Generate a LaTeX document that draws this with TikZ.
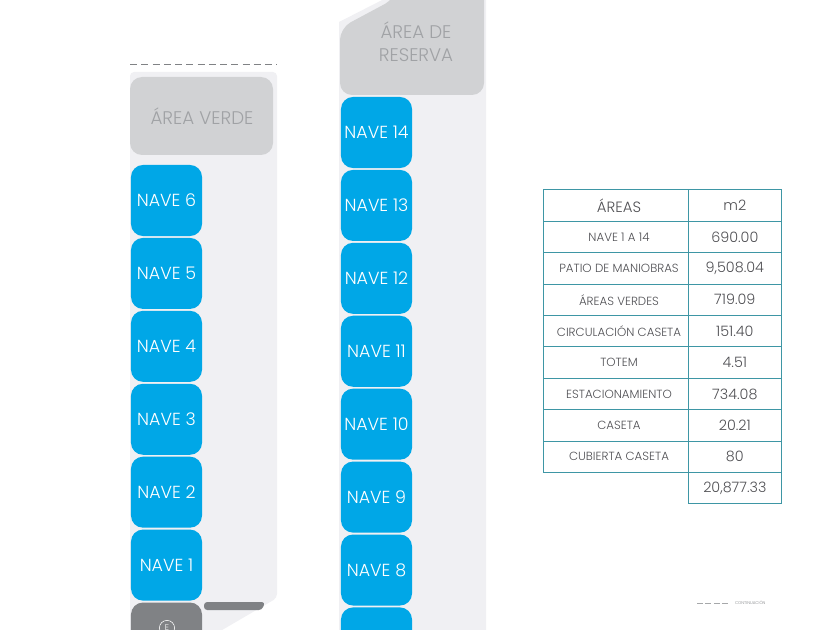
\documentclass[tikz,border=0pt]{standalone}
\usepackage{fontspec}
\usepackage{xcolor}
\usetikzlibrary{positioning}
\setmainfont{Poppins}[UprightFont=* Light]
\definecolor{navblue}{RGB}{0,167,231}
\definecolor{panelgray}{RGB}{240,240,243}
\definecolor{areagray}{RGB}{209,210,212}
\definecolor{areatext}{RGB}{160,162,165}
\definecolor{darkgray}{RGB}{128,130,133}
\definecolor{tableteal}{RGB}{62,150,165}
\definecolor{celltext}{RGB}{80,80,84}

\begin{document}
\begin{tikzpicture}[
    x=0.025cm, y=-0.025cm,
    node distance=0.0475cm,
    nave/.style={rectangle, fill=navblue, text=white, rounded corners=0.3cm, minimum width=1.775cm, minimum height=1.775cm, inner sep=0pt, outer sep=0pt, font=\fontsize{12.4}{14}\selectfont},
    areatag/.style={text=areatext, align=center, inner sep=0pt, font=\fontsize{13}{16.4}\selectfont},
    namecell/.style={rectangle, draw=tableteal, line width=0.7pt, text=celltext, minimum width=3.6cm, minimum height=0.785cm, inner sep=0pt, outer sep=0pt, font=\fontsize{8.4}{9}\selectfont, execute at begin node={\hspace*{0.15cm}}},
    valcell/.style={rectangle, draw=tableteal, line width=0.7pt, text=celltext, minimum width=2.34cm, minimum height=0.785cm, inner sep=0pt, outer sep=0pt, font=\fontsize{10.2}{11}\selectfont}
]
\useasboundingbox (0,0) rectangle (840,630);
\clip (0,0) rectangle (840,630);

% Panels behind the columns
\fill[panelgray, rounded corners=0.1cm] (130,72) -- (277,72) -- (277,598) -- (205,640) -- (130,640) -- cycle;
\fill[panelgray] (339,22) -- (390,-4) -- (486,-4) -- (486,640) -- (339,640) -- cycle;

% Dashed limit
\coordinate (limitw) at (130,64);
\coordinate (limite) at (277,64);
\draw[darkgray, dashed, line width=0.7pt, dash pattern=on 5pt off 3pt] (limitw) -- (limite);

% Gray areas
\fill[areagray, rounded corners=0.3cm] (130,77) rectangle (273,155);
\node[areatag] (verde) at (202,116.5) {ÁREA VERDE};
\fill[areagray, rounded corners=0.3cm] (340,28) -- (396,-2) -- (396,-30) -- (484,-30) -- (484,95) -- (340,95) -- cycle;
\node[areatag] (reserva) at (416,41.5) {ÁREA DE\\RESERVA};

% Column 1
\node[nave] (n6) at (166.5,200.5) {NAVE 6};
\node[nave, below=of n6] (n5) {NAVE 5};
\node[nave, below=of n5] (n4) {NAVE 4};
\node[nave, below=of n4] (n3) {NAVE 3};
\node[nave, below=of n3] (n2) {NAVE 2};
\node[nave, below=of n2] (n1) {NAVE 1};
\node[nave, below=of n1, fill=darkgray] (caseta) {};
\node[draw=white, text=white, circle, line width=0.4pt, minimum size=0.38cm, inner sep=0pt, font=\fontsize{6}{7}\selectfont] (totem) at (167,628) {E};
\fill[darkgray, rounded corners=0.08cm] (204,602) -- (265,602) -- (262,610) -- (204,610) -- cycle;

% Column 2
\node[nave] (n14) at (376.5,132.5) {NAVE 14};
\node[nave, below=of n14] (n13) {NAVE 13};
\node[nave, below=of n13] (n12) {NAVE 12};
\node[nave, below=of n12] (n11) {NAVE 11};
\node[nave, below=of n11] (n10) {NAVE 10};
\node[nave, below=of n10] (n9) {NAVE 9};
\node[nave, below=of n9] (n8) {NAVE 8};
\node[nave, below=of n8] (n7) {};

% Table
\node[namecell, font=\fontsize{10.6}{12}\selectfont] (t1) at (616,205.5) {ÁREAS};
\node[namecell, below=0pt of t1] (t2) {NAVE 1 A 14};
\node[namecell, below=0pt of t2] (t3) {PATIO DE MANIOBRAS};
\node[namecell, below=0pt of t3] (t4) {ÁREAS VERDES};
\node[namecell, below=0pt of t4] (t5) {CIRCULACIÓN CASETA};
\node[namecell, below=0pt of t5] (t6) {TOTEM};
\node[namecell, below=0pt of t6] (t7) {ESTACIONAMIENTO};
\node[namecell, below=0pt of t7] (t8) {CASETA};
\node[namecell, below=0pt of t8] (t9) {CUBIERTA CASETA};

\node[valcell, right=0pt of t1] (v1) {m2};
\node[valcell, right=0pt of t2] (v2) {690.00};
\node[valcell, right=0pt of t3] (v3) {9,508.04};
\node[valcell, right=0pt of t4] (v4) {719.09};
\node[valcell, right=0pt of t5] (v5) {151.40};
\node[valcell, right=0pt of t6] (v6) {4.51};
\node[valcell, right=0pt of t7] (v7) {734.08};
\node[valcell, right=0pt of t8] (v8) {20.21};
\node[valcell, right=0pt of t9] (v9) {80};
\node[valcell, below=0pt of v9] (v10) {20,877.33};
\draw[tableteal, line width=1.2pt] (v10.north west) -- (v10.north east);

% Legend
\coordinate (legw) at (697,603);
\coordinate (lege) at (730,603);
\draw[darkgray!70, dashed, line width=0.4pt, dash pattern=on 4pt off 2pt] (legw) -- (lege);
\node[right=0.12cm of lege, inner sep=0pt, text=darkgray, font=\fontsize{2.9}{3}\selectfont] (legtext) {CONTINUACIÓN};
\end{tikzpicture}
\end{document}
